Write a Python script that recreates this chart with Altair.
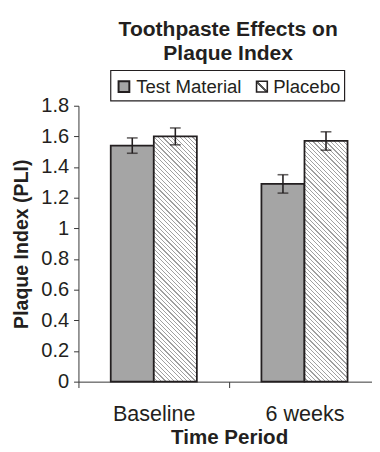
import altair as alt
import pandas as pd

# ---- data ----
periods = ["Baseline", "6 weeks"]
groups = ["Test Material", "Placebo"]
test_means = [1.54, 1.29]
test_errs = [0.05, 0.06]
placebo_means = [1.60, 1.57]
placebo_errs = [0.055, 0.06]
y_ticks = [0, 0.2, 0.4, 0.6, 0.8, 1.0, 1.2, 1.4, 1.6, 1.8]

rows = []
for i, p in enumerate(periods):
    rows.append({"period": p, "group": groups[0], "mean": test_means[i],
                 "lo": test_means[i] - test_errs[i], "hi": test_means[i] + test_errs[i]})
    rows.append({"period": p, "group": groups[1], "mean": placebo_means[i],
                 "lo": placebo_means[i] - placebo_errs[i], "hi": placebo_means[i] + placebo_errs[i]})
df = pd.DataFrame(rows)
legend_df = pd.DataFrame({"label": groups})

# ---- layout / style ----
FONT = "Liberation Sans"
INK = "#231f20"
GREY = "#a5a5a5"
W_PLOT, H_PLOT, Y_MAX = 300, 282, 1.8
BAND_RANGE = 308
BAR_W = 44


def hatch(h_px, w_px=BAR_W, spacing=4.4, frac=0.28, line="#a0a0a0", bg="#ffffff"):
    k = (w_px + h_px) / (w_px ** 2 + h_px ** 2)
    n = max(1, round((w_px + h_px) / spacing))
    stops = []
    for i in range(n):
        a = round(i / n, 6)
        b = round((i + 1 - frac) / n, 6)
        c = round((i + 1) / n, 6)
        stops += [{"offset": a, "color": bg}, {"offset": b, "color": bg},
                  {"offset": b, "color": line}, {"offset": c, "color": line}]
    return {"gradient": "linear", "x1": 0, "y1": 1,
            "x2": round(k * w_px, 6), "y2": round(1 - k * h_px, 6), "stops": stops}


legend_hatch = {"gradient": "linear", "x1": 0, "y1": 1, "x2": 1, "y2": 0,
                "stops": [{"offset": 0, "color": "#ffffff"}, {"offset": 0.43, "color": "#ffffff"},
                          {"offset": 0.43, "color": "#555555"}, {"offset": 0.57, "color": "#555555"},
                          {"offset": 0.57, "color": "#ffffff"}, {"offset": 1, "color": "#ffffff"}]}

x_enc = alt.X("period:N", sort=periods, title="Time Period",
              scale=alt.Scale(domain=periods, range=[0, BAND_RANGE], paddingInner=0, paddingOuter=0),
              axis=alt.Axis(labelAngle=0, tickBand="extent", tickSize=6, labelPadding=17,
                            titlePadding=2, labelFontSize=22, titleFontSize=21,
                            domainColor="#333333", tickColor="#333333"))
xo_enc = alt.XOffset("group:N", sort=groups,
                     scale=alt.Scale(domain=groups, paddingInner=0, paddingOuter=0.75))
y_scale = alt.Scale(domain=[0, Y_MAX], nice=False)
y_axis = alt.Axis(values=y_ticks, format="~g", tickSize=5, labelPadding=5, titlePadding=10,
                  labelFontSize=20.5, titleFontSize=20,
                  domainColor="#333333", tickColor="#333333", grid=False)
Y_TITLE = "Plaque Index (PLI)"

base = alt.Chart(df).encode(x=x_enc, xOffset=xo_enc)

test_bars = base.transform_filter(alt.datum.group == groups[0]).mark_bar(
    fill=GREY, stroke=INK, strokeWidth=1.8
).encode(y=alt.Y("mean:Q", scale=y_scale, axis=y_axis, title=Y_TITLE))

placebo_layers = []
for i, p in enumerate(periods):
    h_px = placebo_means[i] / Y_MAX * H_PLOT
    placebo_layers.append(
        base.transform_filter((alt.datum.group == groups[1]) & (alt.datum.period == p)).mark_bar(
            fill=hatch(h_px), stroke=INK, strokeWidth=1.8
        ).encode(y=alt.Y("mean:Q", scale=y_scale, axis=y_axis, title=Y_TITLE))
    )

err_rule = base.mark_rule(color=INK, strokeWidth=1.6).encode(
    y=alt.Y("lo:Q", scale=y_scale, axis=y_axis, title=Y_TITLE), y2="hi:Q")
cap_lo = base.mark_tick(color=INK, size=11, thickness=1.6).encode(
    y=alt.Y("lo:Q", scale=y_scale, axis=y_axis, title=Y_TITLE))
cap_hi = base.mark_tick(color=INK, size=11, thickness=1.6).encode(
    y=alt.Y("hi:Q", scale=y_scale, axis=y_axis, title=Y_TITLE))

# ---- legend (drawn as marks so the hatch can be shown) ----
leg = alt.Chart(legend_df)
leg_box = leg.transform_filter(alt.datum.label == groups[0]).mark_rect(
    fill="#ffffff", stroke=INK, strokeWidth=1.2
).encode(x=alt.value(33), x2=alt.value(272), y=alt.value(-36), y2=alt.value(-5))
leg_sym1 = leg.transform_filter(alt.datum.label == groups[0]).mark_rect(
    fill=GREY, stroke=INK, strokeWidth=2
).encode(x=alt.value(41), x2=alt.value(52), y=alt.value(-25), y2=alt.value(-14))
leg_sym2 = leg.transform_filter(alt.datum.label == groups[1]).mark_rect(
    fill=legend_hatch, stroke=INK, strokeWidth=1.6
).encode(x=alt.value(182), x2=alt.value(193), y=alt.value(-25), y2=alt.value(-14))
leg_txt1 = leg.transform_filter(alt.datum.label == groups[0]).mark_text(
    align="left", baseline="middle", fontSize=19, font=FONT, color=INK
).encode(x=alt.value(59), y=alt.value(-19), text="label:N")
leg_txt2 = leg.transform_filter(alt.datum.label == groups[1]).mark_text(
    align="left", baseline="middle", fontSize=19, font=FONT, color=INK
).encode(x=alt.value(199), y=alt.value(-19), text="label:N")

chart = alt.layer(
    test_bars, *placebo_layers, err_rule, cap_lo, cap_hi,
    leg_box, leg_sym1, leg_sym2, leg_txt1, leg_txt2
).properties(
    width=W_PLOT, height=H_PLOT,
    title=alt.TitleParams(text=["Toothpaste Effects on", "Plaque Index"], fontSize=21.5,
                          fontWeight="bold", font=FONT, color=INK, anchor="middle",
                          offset=6, dx=3, lineHeight=24),
    autosize=alt.AutoSizeParams(type="none"),
    padding={"left": 72, "top": 95, "right": 0, "bottom": 67},
).configure_view(stroke=None).configure_axis(
    labelFont=FONT, titleFont=FONT,
    labelColor=INK, titleColor=INK, titleFontWeight="bold", labelFontWeight="normal"
)

chart.save("out.html", embed_options={"renderer": "svg", "actions": False})
